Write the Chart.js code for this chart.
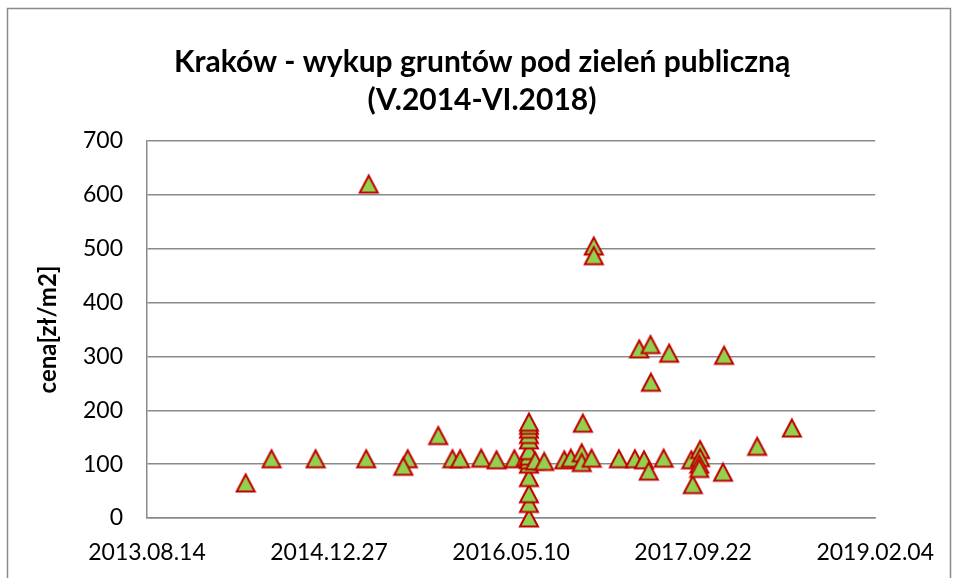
<!DOCTYPE html>
<html>
<head>
<meta charset="utf-8">
<script src="https://cdn.jsdelivr.net/npm/chart.js@4.4.1/dist/chart.umd.min.js"></script>
<style>
  html, body { margin: 0; padding: 0; background: #fff; }
  #wrap { position: relative; width: 955px; height: 578px; }
</style>
</head>
<body>
<div id="wrap"><canvas id="chart" width="955" height="578"></canvas></div>
<script>
// Excel serial dates (days) of each purchase, and price in zł/m2
const saleDays = [
  41771, 41842, 41963, 42102, 42109, 42216, 42204, 42300, 42339, 42360,
  42418, 42460, 42509, 42540,
  42549, 42549, 42549, 42549, 42549, 42549, 42549, 42549, 42549, 42549, 42549, 42549, 42549,
  42566, 42591, 42646, 42664, 42694, 42694, 42697, 42721, 42727, 42727,
  42796, 42840, 42852, 42865, 42878, 42883, 42884, 42919, 42934,
  42995, 42999, 43019, 43019, 43017, 43017, 43082, 43085, 43176, 43271
];
const pricePerM2 = [
  65, 110, 110, 110, 620, 110, 96, 153, 110, 110,
  111, 108, 110, 112,
  0, 27, 45, 75, 100, 108, 115, 125, 145, 155, 165, 172, 178,
  106, 105, 108, 111, 121, 103, 176, 111, 505, 487,
  110, 110, 314, 108, 87, 322, 252, 111, 306,
  108, 62, 127, 112, 100, 92, 85, 302, 133, 167
];
const xTickLabels = ['2013.08.14', '2014.12.27', '2016.05.10', '2017.09.22', '2019.02.04'];
const xFirstTick = 41500;
const xTickStep = 500;

const titleLines = ['Kraków - wykup gruntów pod zieleń publiczną', '(V.2014-VI.2018)'];
const yTitle = 'cena[zł/m2]';

const GRID = '#8a8a8a';

// Excel style triangle marker
function makeTriangle() {
  const c = document.createElement('canvas');
  c.width = 22;
  c.height = 22;
  const g = c.getContext('2d');
  g.beginPath();
  g.moveTo(11, 2.5);
  g.lineTo(20, 19.5);
  g.lineTo(2, 19.5);
  g.closePath();
  g.fillStyle = '#92D050';
  g.fill();
  g.lineWidth = 2;
  g.strokeStyle = '#C00000';
  g.stroke();
  return c;
}

// outer chart frame + title centred on the frame (not on the plot area)
const framePlugin = {
  id: 'frame',
  beforeDraw(chart) {
    const { ctx } = chart;
    ctx.save();
    ctx.fillStyle = '#fff';
    ctx.fillRect(0, 0, chart.width, chart.height);
    ctx.strokeStyle = GRID;
    ctx.lineWidth = 1.5;
    ctx.strokeRect(7.5, 8.5, 943, 600);

    ctx.fillStyle = '#000';
    ctx.font = 'bold 30px Lato';
    ctx.textAlign = 'center';
    ctx.textBaseline = 'middle';
    titleLines.forEach((line, i) => ctx.fillText(line, 482, 62 + i * 38));
    ctx.restore();
  },
};

Chart.defaults.color = '#000';
Chart.defaults.font.family = 'Lato';

new Chart(document.getElementById('chart').getContext('2d'), {
  type: 'scatter',
  data: {
    datasets: [
      {
        data: saleDays.map((d, i) => ({ x: d, y: pricePerM2[i] })),
        pointStyle: makeTriangle(),
        clip: false,
      },
    ],
  },
  options: {
    responsive: false,
    animation: false,
    layout: { padding: { left: 0, right: 77, top: 141, bottom: 0 } },
    plugins: {
      legend: { display: false },
      tooltip: { enabled: false },
      title: { display: false },
    },
    scales: {
      x: {
        type: 'linear',
        min: xFirstTick,
        max: xFirstTick + xTickStep * (xTickLabels.length - 1),
        afterBuildTicks: (scale) => {
          scale.ticks = xTickLabels.map((_, i) => ({ value: xFirstTick + i * xTickStep }));
        },
        grid: { display: false, drawTicks: false },
        border: { color: GRID, width: 1.5 },
        ticks: {
          padding: 21,
          maxRotation: 0,
          font: { size: 23 },
          callback: (v) => xTickLabels[Math.round((v - xFirstTick) / xTickStep)],
        },
        afterFit: (scale) => { scale.height = 60; },
      },
      y: {
        min: 0,
        max: 700,
        ticks: { stepSize: 100, padding: 24, font: { size: 23 } },
        grid: { color: GRID, lineWidth: 1.5, drawTicks: false },
        border: { color: GRID, width: 1.5 },
        title: {
          display: true,
          text: yTitle,
          font: { size: 24, weight: 'bold' },
          padding: { top: 34, bottom: 0 },
        },
        afterFit: (scale) => { scale.width = 147; },
      },
    },
  },
  plugins: [framePlugin],
});
</script>
</body>
</html>
